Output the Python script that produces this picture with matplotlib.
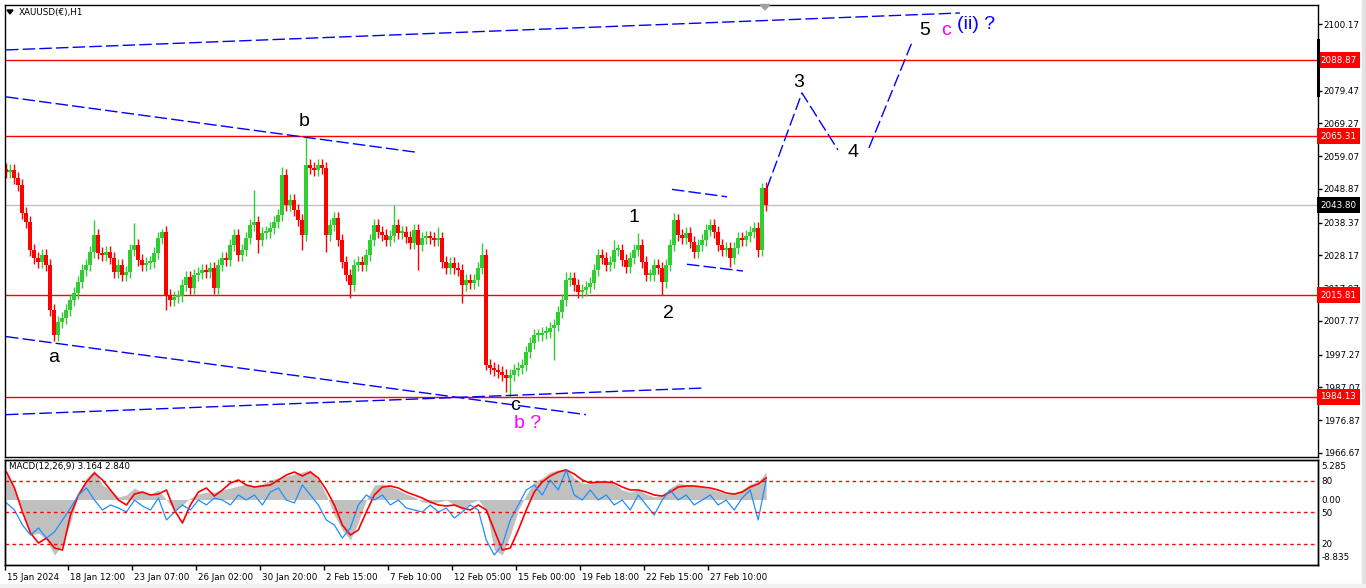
import numpy as np
import matplotlib
matplotlib.use("Agg")
import matplotlib.pyplot as plt
from matplotlib.patches import Polygon, Rectangle
from matplotlib.lines import Line2D
from matplotlib.transforms import ScaledTranslation

plt.rcParams['font.family'] = ['DejaVu Sans']
plt.rcParams['lines.scale_dashes'] = False

# ---- XAUUSD H1 in 4-hour steps ----
closes = [
    2054.1, 2054.7, 2052.2, 2050.1, 2041.4, 2038.6, 2029.8, 2027.3, 2026.1, 2028.3,
    2025.2, 2011.2, 2003.4, 2007.4, 2008.7, 2011.2, 2014.3, 2016.5, 2019.9, 2023.6,
    2025.2, 2029.2, 2034.5, 2028.9, 2028.3, 2029.2, 2027.3, 2023.0, 2025.2, 2022.1,
    2023.0, 2029.8, 2031.4, 2026.7, 2025.2, 2025.8, 2026.1, 2028.9, 2033.6, 2035.4,
    2015.8, 2014.3, 2015.2, 2015.5, 2018.9, 2021.4, 2018.0, 2022.1, 2022.7, 2023.6,
    2023.0, 2024.2, 2018.0, 2025.2, 2027.3, 2026.7, 2031.4, 2034.5, 2028.3, 2029.8,
    2033.6, 2037.6, 2038.6, 2033.0, 2035.1, 2035.4, 2036.7, 2038.6, 2040.7, 2053.2,
    2043.9, 2045.4, 2042.3, 2039.2, 2034.5, 2056.3, 2055.4, 2054.7, 2056.3, 2055.4,
    2034.5, 2037.6, 2039.8, 2033.0, 2026.1, 2022.1, 2018.9, 2025.2, 2026.1, 2025.2,
    2028.3, 2033.0, 2037.6, 2035.4, 2034.5, 2033.0, 2034.2, 2037.6, 2035.1, 2035.4,
    2033.9, 2032.0, 2036.1, 2031.4, 2033.6, 2033.9, 2033.6, 2033.0, 2033.6, 2026.1,
    2024.2, 2025.8, 2024.2, 2023.6, 2018.9, 2020.5, 2019.6, 2020.5, 2024.2, 2028.3,
    1994.0, 1993.1, 1992.5, 1991.9, 1990.9, 1990.0, 1990.9, 1992.5, 1993.1, 1994.0,
    1998.1, 2000.9, 2003.4, 2003.4, 2004.0, 2004.3, 2005.6, 2006.5, 2010.5, 2014.3,
    2020.5, 2021.1, 2018.9, 2016.8, 2017.4, 2018.3, 2019.6, 2023.6, 2028.3, 2027.3,
    2025.2, 2026.1, 2029.8, 2029.8, 2026.7, 2024.5, 2027.3, 2029.8, 2031.4, 2026.1,
    2022.1, 2022.1, 2025.2, 2024.2, 2019.9, 2025.2, 2031.4, 2039.2, 2034.5, 2033.6,
    2035.1, 2032.3, 2029.2, 2031.4, 2033.0, 2036.1, 2037.6, 2035.4, 2031.4, 2029.8,
    2030.5, 2027.3, 2030.5, 2033.6, 2033.0, 2034.2, 2035.4, 2036.7, 2029.8, 2049.1,
    2043.8,
]
first_open = 2055.0
spike_highs = {22: 2039.2, 32: 2038.2, 39: 2036.4, 62: 2048.5, 69: 2055.7, 75: 2065.0,
               97: 2043.9, 108: 2037.0, 119: 2032.0, 140: 2023.0, 152: 2033.0,
               158: 2035.1, 167: 2041.4, 189: 2050.7}
spike_lows = {12: 2001.5, 40: 2011.2, 63: 2028.9, 74: 2029.8, 80: 2029.2, 86: 2014.9,
              103: 2023.6, 114: 2013.3, 120: 1992.5, 125: 1985.6, 126: 1984.1,
              137: 1995.6, 164: 2015.8, 181: 2024.5, 188: 2027.7}

# ---- MACD window, one value every 2 bars ----
macd_hist = [
    4.11, 1.48, -1.63, -5.51, -5.20, -6.29, -8.62, -7.07, -3.49, 0.70,
    3.34, 4.58, 2.25, 1.48, 0.39, 0.70, 1.79, 1.16, 0.85, 1.48,
    -0.08, -1.63, -0.85, 0.23, 0.85, 1.16, 1.16, 1.48, 1.79, 2.10,
    2.41, 2.10, 2.41, 3.03, 3.34, 3.65, 3.96, 4.27, 4.58, 3.03,
    0.70, -2.41, -4.74, -6.29, -3.49, -0.08, 2.25, 2.41, 1.94, 1.48,
    0.85, 0.39, -0.39, -0.54, -0.39, -0.08, -0.85, -1.63, -0.54, -0.08,
    -1.63, -7.84, -8.62, -5.51, -1.63, 0.70, 2.72, 3.34, 4.27, 4.58,
    4.89, 3.34, 2.56, 2.41, 2.87, 2.72, 2.41, 1.48, 1.16, 1.48,
    0.85, 0.39, 0.70, 1.79, 2.56, 2.25, 2.10, 1.94, 1.63, 1.32,
    0.85, 1.01, 1.48, 2.41, 2.72, 4.27,
]
macd_signal = [
    4.27, 1.79, -1.94, -5.20, -6.75, -5.98, -7.53, -7.84, -2.41, 0.70,
    2.72, 4.11, 3.03, 1.48, -0.08, -0.85, 0.85, 1.16, 0.70, 0.85,
    1.48, -1.63, -3.65, -0.85, 1.16, 1.79, 0.54, 1.48, 2.56, 3.03,
    2.25, 1.94, 2.10, 2.25, 3.03, 3.80, 4.27, 3.65, 4.27, 3.34,
    1.48, -0.85, -3.96, -5.51, -4.74, -1.94, 0.70, 1.94, 2.10, 1.79,
    1.16, 0.70, 0.23, -0.39, -0.85, -1.01, -0.85, -1.32, -1.63, -0.85,
    -1.63, -4.74, -7.84, -7.53, -4.74, -1.63, 1.16, 2.72, 3.65, 4.27,
    4.58, 3.96, 3.03, 2.56, 2.72, 2.72, 2.56, 1.94, 1.48, 1.48,
    1.16, 0.70, 0.54, 1.16, 1.94, 2.10, 2.10, 1.94, 1.79, 1.48,
    1.01, 0.85, 1.16, 1.94, 2.41, 3.34,
]
osc_line = [
    58.6, 51.9, 37.6, 28.1, 34.8, 25.2, 31.0, 42.4, 53.8, 66.2,
    72.9, 61.4, 51.9, 56.7, 53.8, 50.0, 61.4, 55.7, 51.9, 63.3,
    42.4, 50.0, 56.7, 51.9, 61.4, 56.7, 63.3, 61.4, 56.7, 66.2,
    61.4, 66.2, 56.7, 69.0, 72.9, 61.4, 58.6, 75.7, 66.2, 56.7,
    42.4, 37.6, 25.2, 34.8, 56.7, 66.2, 61.4, 66.2, 56.7, 61.4,
    53.8, 51.9, 50.0, 56.7, 50.0, 53.8, 44.3, 50.0, 56.7, 51.9,
    23.3, 9.0, 18.6, 42.4, 56.7, 71.0, 75.7, 66.2, 80.5, 71.0,
    90.0, 66.2, 61.4, 71.0, 61.4, 66.2, 56.7, 61.4, 51.9, 66.2,
    56.7, 47.1, 61.4, 71.0, 61.4, 66.2, 56.7, 61.4, 66.2, 56.7,
    61.4, 51.9, 63.3, 71.0, 42.4, 80.5,
]
osc_levels = [80, 50, 20]

date_labels = ['15 Jan 2024', '18 Jan 12:00', '23 Jan 07:00', '26 Jan 02:00',
               '30 Jan 20:00', '2 Feb 15:00', '7 Feb 10:00', '12 Feb 05:00',
               '15 Feb 00:00', '19 Feb 18:00', '22 Feb 15:00', '27 Feb 10:00']
price_ticks = [2100.17, 2079.47, 2069.27, 2059.07, 2048.87, 2038.37, 2028.17,
               2017.97, 2007.77, 1997.27, 1987.07, 1976.87, 1966.67]
red_levels = [2088.87, 2065.31, 2015.81, 1984.13]
bid_price = 2043.80

# trend lines / wave projection (bar, price)
trend_lines = [
    ([0.0, 238.5], [2092.1, 2103.6]),
    ([0.0, 103.0], [2077.5, 2060.2]),
    ([0.0, 145.0], [2002.9, 1978.6]),
    ([0.0, 174.75], [1978.6, 1986.9]),
    ([166.5, 180.25], [2048.7, 2046.4]),
    ([170.25, 184.25], [2025.4, 2023.3]),
    ([190.25, 199.0, 208.0], [2049.1, 2078.7, 2061.0]),
    ([215.75, 226.75], [2061.6, 2095.2]),
]
wave_labels = [
    ('a', 12.0, 1996.5, 'black'), ('b', 74.5, 2069.7, 'black'),
    ('c', 127.25, 1981.6, 'black'), ('b ?', 130.5, 1976.0, '#FF00FF'),
    ('1', 157.0, 2039.8, 'black'), ('2', 165.5, 2010.2, 'black'),
    ('3', 198.25, 2082.1, 'black'), ('4', 211.75, 2060.3, 'black'),
    ('5', 229.75, 2098.0, 'black'), ('c', 235.0, 2098.0, '#FF00FF'),
    ('(ii) ?', 242.5, 2099.9, '#0000FF'),
]

W, H = 1366, 588
fig = plt.figure(figsize=(W / 100, H / 100), dpi=100)
fig.patch.set_facecolor('white')


def fx(px):
    return px / W


def fy(py):
    return 1 - py / H


ax = fig.add_axes([fx(4.5), fy(457), fx(1317.5 - 4.5), (457 - 4.5) / H])
axm = fig.add_axes([fx(4.5), fy(564.5), fx(1317.5 - 4.5), (564.5 - 459.5) / H])
xlim = (-0.375, 327.9)

# candles
n = len(closes)
xs = np.arange(n)
opens = [first_open] + closes[:-1]
cols, bots, hts, his, los = [], [], [], [], []
for i, (o, c) in enumerate(zip(opens, closes)):
    cols.append('#32CD32' if c >= o else '#FF0000')
    bots.append(min(o, c))
    hts.append(max(abs(c - o), 0.6))
    his.append(max(spike_highs.get(i, max(o, c) + 1.8), max(o, c)))
    los.append(min(spike_lows.get(i, min(o, c) - 1.8), min(o, c)))

for lvl in red_levels:
    ax.axhline(lvl, color='#FF0000', lw=1.0, zorder=1)
ax.axhline(bid_price, color='#C0C0C0', lw=1.0, zorder=1)

ax.vlines(xs, los, his, colors=cols, lw=1.0, zorder=2)
ax.bar(xs, hts, bottom=bots, width=0.8, color=cols, linewidth=0, zorder=2)

for bx, by in trend_lines:
    ax.plot(bx, by, color='#0000FF', lw=1.0, dashes=(9, 3), zorder=3)

for txt, bx, by, c in wave_labels:
    ax.text(bx, by, txt, color=c, fontsize=14, ha='center', va='center',
            family=['Liberation Sans', 'DejaVu Sans'], zorder=4)

ax.set_xlim(*xlim)
ax.set_ylim(1965.42, 2106.24)
ax.set_xticks([])
ax.yaxis.tick_right()
ax.set_yticks(price_ticks)
ax.set_yticklabels([f'{v:.2f}' for v in price_ticks])
ax.tick_params(axis='y', length=3, width=1, pad=1.5, labelsize=6.3, colors='black')
for s in ax.spines.values():
    s.set_color('black')
    s.set_linewidth(1.0)

ytr = ax.get_yaxis_transform()
for lvl in red_levels:
    ax.text(1.0 + 3 / 1313, lvl, f'{lvl:.2f}', transform=ytr, color='white',
            fontsize=6.3, ha='left', va='center', zorder=6, clip_on=False,
            bbox=dict(boxstyle='square,pad=0.4', fc='#FF0000', ec='none'))
ax.text(1.0 + 3 / 1313, bid_price, f'{bid_price:.2f}', transform=ytr, color='white',
        fontsize=6.3, ha='left', va='center', zorder=6, clip_on=False,
        bbox=dict(boxstyle='square,pad=0.4', fc='black', ec='none'))

# MACD window
xm = np.arange(0, n, 2)[:len(macd_hist)]
axm.fill_between(xm, 0, macd_hist, color='#C0C0C0', linewidth=0, zorder=1)
axm.plot(xm, macd_signal, color='#FF0000', lw=1.2, zorder=3)
axm.set_xlim(*xlim)
axm.set_ylim(-10.09, 6.21)

axo = axm.twinx()
axo.set_xlim(*xlim)
axo.set_ylim(0, 100)
axo.plot(xm, osc_line, color='#1E90FF', lw=0.9, zorder=2)
for lv in osc_levels:
    axo.axhline(lv, color='#FF0000', lw=1.0, dashes=(2.5, 2.5))
axo.set_yticks(osc_levels)
axo.set_yticklabels([str(v) for v in osc_levels])
axo.tick_params(axis='y', length=0, pad=3, labelsize=6.3)

axm.yaxis.tick_right()
axm.set_yticks([5.285, 0.0, -8.835])
axm.set_yticklabels(['5.285', '0.00', '-8.835'])
axm.tick_params(axis='y', length=0, pad=3, labelsize=6.3)
for a in (axm, axo):
    for s in a.spines.values():
        s.set_color('black')
        s.set_linewidth(1.0)

axm.set_xticks([16 * k - 0.5 for k in range(len(date_labels))])
axm.set_xticklabels(date_labels, ha='left')
axm.tick_params(axis='x', length=3.5, width=1, pad=2.5, labelsize=6.3)
for lbl in axm.get_xticklabels():
    lbl.set_transform(lbl.get_transform() + ScaledTranslation(2 / 100, 0, fig.dpi_scale_trans))

fig.text(fx(9), fy(467), 'MACD(12,26,9) 3.164 2.840', fontsize=6.3, va='center', ha='left')
fig.text(fx(19), fy(13), 'XAUUSD(€),H1', fontsize=6.3, va='center', ha='left')

# window decorations
fig.add_artist(Polygon([[fx(7), fy(10)], [fx(13), fy(10)], [fx(10), fy(14)]],
                       closed=True, color='black'))
fig.add_artist(Polygon([[fx(760), fy(4.5)], [fx(770), fy(4.5)], [fx(765), fy(10)]],
                       closed=True, color='#A0A0A0'))
fig.add_artist(Line2D([fx(1318.2)] * 2, [fy(40), fy(95)], color='black', lw=2.2))
fig.add_artist(Rectangle((fx(1362), 0), fx(4), 1, color='#E3E3E3', zorder=0))
fig.add_artist(Rectangle((0, 0), 1, 4 / H, color='#F0F0F0', zorder=0))

fig.savefig('out.png', dpi=100, facecolor=fig.get_facecolor())
